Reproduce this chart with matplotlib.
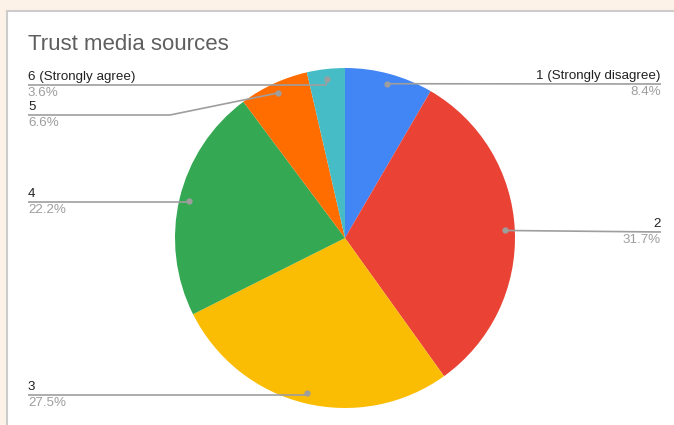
import numpy as np
import matplotlib
matplotlib.use("Agg")
import matplotlib.pyplot as plt
from matplotlib.patches import Rectangle

# Datos
categorias = ["1 (Strongly disagree)", "2", "3", "4", "5", "6 (Strongly agree)"]
porcentajes = [8.4, 31.7, 27.5, 22.2, 6.6, 3.6]
colores = ["#4285F4", "#EA4335", "#FBBC04", "#34A853", "#FF6D01", "#46BDC6"]
titulo = "Trust media sources"

# Layout (pixeles)
W, H = 674, 425
cx, cy, R = 345, 238, 170
lado = ["right", "right", "left", "left", "left", "left"]
y_linea = [84, 232, 395, 202, 115, 85]   # altura de la linea guia en cada etiqueta
x_izq, x_der = 28, 661

fig = plt.figure(figsize=(W / 100, H / 100), dpi=100, facecolor="#fdf2e8")

# Panel blanco
panel = fig.add_axes([0, 0, 1, 1])
panel.set_xlim(0, W)
panel.set_ylim(H, 0)
panel.axis("off")
panel.add_patch(Rectangle((7, 11), W + 20, H + 20, facecolor="white",
                          edgecolor="#cccccc", lw=1.5))

# Pie
ax = fig.add_axes([(cx - R) / W, (H - cy - R) / H, 2 * R / W, 2 * R / H])
ax.pie(porcentajes, colors=colores, startangle=90, counterclock=False,
       radius=1, wedgeprops=dict(linewidth=0))
ax.set_xlim(-1, 1)
ax.set_ylim(-1, 1)
ax.set_aspect("auto")
ax.axis("off")

# Capa de etiquetas
ov = fig.add_axes([0, 0, 1, 1], zorder=5)
ov.set_xlim(0, W)
ov.set_ylim(H, 0)
ov.axis("off")

ov.text(x_izq, 44, titulo, fontsize=16, color="#5f5f5f", va="center",
        family="Liberation Sans")

acum = np.cumsum([0] + porcentajes)
for i, cat in enumerate(categorias):
    medio = (acum[i] + acum[i + 1]) / 2 / 100 * 2 * np.pi
    px = cx + 0.94 * R * np.sin(medio)
    py = cy - 0.94 * R * np.cos(medio)
    yl = y_linea[i]
    if lado[i] == "right":
        xs = [px, x_der]
        ys = [py, yl]
        xt, ha = x_der, "right"
    else:
        codo = 170 if abs(py - yl) > 8 else px - 1
        xs = [x_izq, codo, px]
        ys = [yl, yl, py]
        xt, ha = x_izq, "left"
    ov.plot(xs, ys, color="#9e9e9e", lw=1.2, solid_capstyle="butt")
    ov.plot(px, py, "o", color="#9e9e9e", ms=3.5)
    ov.text(xt, yl - 2, cat, fontsize=9.6, color="#222222", ha=ha, va="bottom",
            family="Liberation Sans")
    ov.text(xt, yl + 2, f"{porcentajes[i]}%", fontsize=9.6, color="#9e9e9e",
            ha=ha, va="top", family="Liberation Sans")

fig.savefig("out.png", dpi=100, facecolor=fig.get_facecolor())
